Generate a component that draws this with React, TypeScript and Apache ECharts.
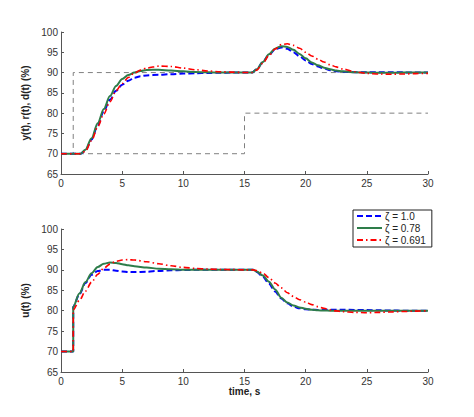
import { useEffect, useRef } from 'react';
import * as echarts from 'echarts';

// y(t) response, top panel
const timeY = [0, 1.6, 2.0, 2.5, 3.0, 3.5, 4.0, 4.5, 5.0, 5.5, 6.0, 6.5, 7, 8, 9, 10, 11, 12, 13, 14, 15, 15.6, 16, 16.5, 17, 17.5, 18, 18.5, 19, 19.5, 20, 20.5, 21, 21.5, 22, 22.5, 23, 24, 25, 26, 27, 28, 29, 30];
const yZeta100 = [70, 70, 70.8, 73.5, 77, 80.5, 83.3, 85.5, 87, 88, 88.7, 89.1, 89.3, 89.45, 89.6, 89.75, 89.85, 89.9, 89.95, 90, 90, 90, 90.8, 92.6, 94.4, 95.7, 96.2, 95.9, 95.0, 94.0, 93.0, 92.1, 91.5, 91.0, 90.6, 90.35, 90.2, 90.1, 90.05, 90.1, 90.1, 90.05, 90, 90];
const yZeta078 = [70, 70, 71, 73.8, 77.5, 81, 84.2, 86.7, 88.4, 89.4, 90.0, 90.4, 90.65, 90.7, 90.5, 90.3, 90.15, 90.05, 90, 90, 90, 90, 90.8, 92.6, 94.5, 95.9, 96.5, 96.3, 95.6, 94.6, 93.5, 92.5, 91.8, 91.2, 90.8, 90.5, 90.3, 90.05, 90, 89.95, 89.95, 90, 90, 90];
const yZeta0691 = [70, 70, 70.6, 73.2, 76.6, 79.8, 82.8, 85.5, 87.3, 88.8, 89.9, 90.6, 91.1, 91.6, 91.5, 91.1, 90.7, 90.4, 90.2, 90.1, 90, 90, 90.6, 92.3, 94.2, 95.8, 96.9, 97.1, 96.7, 96.0, 95.0, 94.1, 93.3, 92.6, 91.9, 91.4, 90.9, 90.2, 89.8, 89.65, 89.6, 89.65, 89.75, 89.8];

// setpoint r(t) and disturbance d(t)
const timeR = [0, 1, 1, 30];
const valuesR = [70, 70, 90, 90];
const timeD = [0, 15, 15, 30];
const valuesD = [70, 70, 80, 80];

// u(t) controller output, bottom panel
const timeU = [0, 1, 1, 1.5, 2.0, 2.5, 3.0, 3.5, 4, 4.5, 5, 5.5, 6, 7, 8, 9, 10, 11, 12, 13, 14, 15, 15.7, 16, 16.5, 17, 17.5, 18, 18.5, 19, 19.5, 20, 20.5, 21, 21.5, 22, 22.5, 23, 24, 25, 26, 27, 28, 29, 30];
const uZeta100 = [70, 70, 81, 84, 86.8, 88.8, 89.7, 90, 90, 89.8, 89.6, 89.5, 89.45, 89.55, 89.75, 89.9, 89.95, 90, 90, 90, 90, 90, 90, 89.5, 88.3, 86.6, 84.7, 83, 81.8, 81.0, 80.6, 80.35, 80.25, 80.2, 80.2, 80.25, 80.25, 80.25, 80.2, 80.15, 80.1, 80.05, 80, 80, 80];
const uZeta078 = [70, 70, 81, 84.2, 87, 89.2, 90.7, 91.5, 91.8, 91.7, 91.4, 91.1, 90.9, 90.55, 90.3, 90.15, 90.05, 90, 90, 90, 90, 90, 90, 89.6, 88.6, 87.1, 85.2, 83.2, 82.0, 81.3, 80.8, 80.5, 80.25, 80.1, 80.05, 80, 80, 80, 80, 80, 80, 80, 80, 80, 80];
const uZeta0691 = [70, 70, 80.2, 82.5, 84.8, 87, 88.9, 90.4, 91.4, 92.1, 92.4, 92.5, 92.4, 92, 91.5, 91, 90.6, 90.35, 90.2, 90.1, 90.05, 90, 90, 89.8, 89.2, 88.1, 86.8, 85.6, 84.4, 83.5, 82.7, 82.1, 81.5, 81.0, 80.6, 80.2, 79.95, 79.75, 79.6, 79.5, 79.6, 79.7, 79.8, 79.9, 80];

const legendNames = ['ζ = 1.0', 'ζ = 0.78', 'ζ = 0.691'];
const yTicks = { min: 65, max: 100, interval: 5 };
const xTicks = { min: 0, max: 30, interval: 5 };

const FONT = 'Liberation Sans, Arial, Helvetica, sans-serif';

const pairs = (t: number[], v: number[]) => t.map((x, i) => [x, v[i]]);

export default function App() {
  const chartRef = useRef<HTMLDivElement>(null);

  useEffect(() => {
    if (!chartRef.current) return;
    const chart = echarts.init(chartRef.current, undefined, { renderer: 'svg' });

    const axisCommon = {
      axisLine: { show: true, onZero: false, lineStyle: { color: '#555', width: 1 } },
      axisTick: { show: true, inside: true, length: 3, lineStyle: { color: '#555' } },
      splitLine: { show: false },
    };

    const xAxis = (gridIndex: number, name: string) => ({
      type: 'value',
      gridIndex,
      ...xTicks,
      ...axisCommon,
      name,
      nameLocation: 'middle',
      nameGap: 14,
      nameTextStyle: { color: '#222', fontWeight: 'bold', fontSize: 10, fontFamily: FONT },
      axisLabel: { color: '#333', fontSize: 10, margin: 4, fontFamily: FONT },
    });

    const yAxis = (gridIndex: number, name: string) => ({
      type: 'value',
      gridIndex,
      ...yTicks,
      ...axisCommon,
      name,
      nameLocation: 'middle',
      nameRotate: 90,
      nameGap: 17,
      nameTextStyle: { color: '#222', fontWeight: 'bold', fontSize: 10, fontFamily: FONT },
      axisLabel: { color: '#333', fontSize: 10, margin: 3, fontFamily: FONT },
    });

    const styles = [
      { color: '#0000ff', width: 2, type: [6, 3] },
      { color: '#2e7d4a', width: 2, type: 'solid' },
      { color: '#ff0000', width: 1.6, type: [6, 3, 1.5, 3] },
    ];

    const curve = (idx: number, axis: number, t: number[], v: number[]) => ({
      name: legendNames[idx],
      type: 'line',
      xAxisIndex: axis,
      yAxisIndex: axis,
      data: pairs(t, v),
      showSymbol: false,
      symbol: 'none',
      smooth: 0.3,
      smoothMonotone: 'x',
      itemStyle: { color: styles[idx].color },
      lineStyle: styles[idx],
    });

    const refLine = (t: number[], v: number[]) => ({
      name: 'ref',
      type: 'line',
      xAxisIndex: 0,
      yAxisIndex: 0,
      data: pairs(t, v),
      symbol: 'none',
      lineStyle: { color: '#808080', width: 1, type: [5, 4] },
    });

    chart.setOption({
      animation: false,
      textStyle: { fontFamily: FONT },
      grid: [
        { left: 61, right: 46, top: 32, height: 142 },
        { left: 61, right: 46, top: 229, height: 143 },
      ],
      xAxis: [xAxis(0, ''), xAxis(1, 'time, s')],
      yAxis: [yAxis(0, 'y(t), r(t), d(t) (%)'), yAxis(1, 'u(t) (%)')],
      legend: {
        data: legendNames,
        orient: 'vertical',
        left: 353,
        top: 210,
        itemWidth: 25,
        itemHeight: 10,
        itemGap: 2,
        padding: [1, 6, 2, 3],
        borderColor: '#222',
        borderWidth: 1,
        backgroundColor: '#fff',
        itemStyle: { color: 'transparent', borderWidth: 0, opacity: 0 },
        textStyle: { color: '#222', fontSize: 10, fontFamily: FONT, padding: [0, 0, 0, -2] },
      },
      series: [
        refLine(timeR, valuesR),
        refLine(timeD, valuesD),
        curve(0, 0, timeY, yZeta100),
        curve(1, 0, timeY, yZeta078),
        curve(2, 0, timeY, yZeta0691),
        curve(0, 1, timeU, uZeta100),
        curve(1, 1, timeU, uZeta078),
        curve(2, 1, timeU, uZeta0691),
      ],
    });

    return () => {
      chart.dispose();
    };
  }, []);

  return (
    <div
      ref={chartRef}
      style={{ position: 'fixed', left: 0, top: 0, width: 474, height: 417, background: '#fff' }}
    />
  );
}
